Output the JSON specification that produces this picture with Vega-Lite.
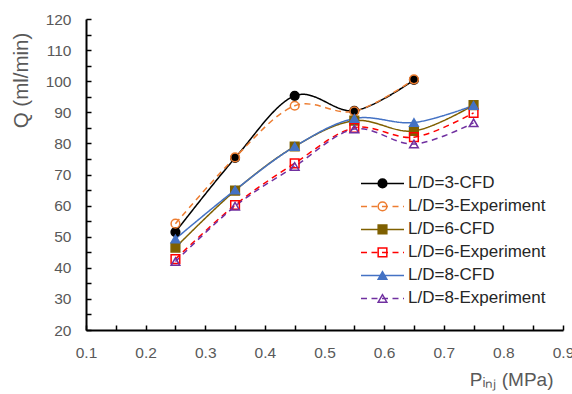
{
  "$schema": "https://vega.github.io/schema/vega-lite/v6.json",
  "width": 477,
  "height": 311,
  "autosize": {"type": "none"},
  "padding": {"left": 86, "top": 19, "right": 9, "bottom": 64},
  "background": "white",
  "config": {"view": {"stroke": null}, "font": "Liberation Sans"},
  "data": {
    "values": [
      {"series": "L/D=3-CFD", "p": 0.25, "q": 51.5},
      {"series": "L/D=3-CFD", "p": 0.35, "q": 75.3},
      {"series": "L/D=3-CFD", "p": 0.45, "q": 95.3},
      {"series": "L/D=3-CFD", "p": 0.55, "q": 90.5},
      {"series": "L/D=3-CFD", "p": 0.65, "q": 100.4},
      {"series": "L/D=3-Experiment", "p": 0.25, "q": 54.2},
      {"series": "L/D=3-Experiment", "p": 0.35, "q": 75.5},
      {"series": "L/D=3-Experiment", "p": 0.45, "q": 92.1},
      {"series": "L/D=3-Experiment", "p": 0.55, "q": 90.3},
      {"series": "L/D=3-Experiment", "p": 0.65, "q": 100.6},
      {"series": "L/D=6-CFD", "p": 0.25, "q": 46.5},
      {"series": "L/D=6-CFD", "p": 0.35, "q": 64.8},
      {"series": "L/D=6-CFD", "p": 0.45, "q": 79.0},
      {"series": "L/D=6-CFD", "p": 0.55, "q": 87.3},
      {"series": "L/D=6-CFD", "p": 0.65, "q": 84.0},
      {"series": "L/D=6-CFD", "p": 0.75, "q": 92.3},
      {"series": "L/D=6-Experiment", "p": 0.25, "q": 42.8},
      {"series": "L/D=6-Experiment", "p": 0.35, "q": 60.2},
      {"series": "L/D=6-Experiment", "p": 0.45, "q": 73.6},
      {"series": "L/D=6-Experiment", "p": 0.55, "q": 85.0},
      {"series": "L/D=6-Experiment", "p": 0.65, "q": 82.0},
      {"series": "L/D=6-Experiment", "p": 0.75, "q": 89.8},
      {"series": "L/D=8-CFD", "p": 0.25, "q": 49.3},
      {"series": "L/D=8-CFD", "p": 0.35, "q": 65.0},
      {"series": "L/D=8-CFD", "p": 0.45, "q": 79.0},
      {"series": "L/D=8-CFD", "p": 0.55, "q": 88.0},
      {"series": "L/D=8-CFD", "p": 0.65, "q": 86.7},
      {"series": "L/D=8-CFD", "p": 0.75, "q": 92.2},
      {"series": "L/D=8-Experiment", "p": 0.25, "q": 42.0},
      {"series": "L/D=8-Experiment", "p": 0.35, "q": 59.8},
      {"series": "L/D=8-Experiment", "p": 0.45, "q": 72.6},
      {"series": "L/D=8-Experiment", "p": 0.55, "q": 84.6},
      {"series": "L/D=8-Experiment", "p": 0.65, "q": 79.8},
      {"series": "L/D=8-Experiment", "p": 0.75, "q": 86.6}
    ]
  },
  "encoding": {
    "x": {
      "field": "p", "type": "quantitative",
      "scale": {"domain": [0.1, 0.9], "nice": false, "zero": false},
      "axis": {
        "values": [0.1, 0.15, 0.2, 0.25, 0.3, 0.35, 0.4, 0.45, 0.5, 0.55, 0.6, 0.65, 0.7, 0.75, 0.8, 0.85, 0.9],
        "labelExpr": "abs(datum.value*10 - round(datum.value*10)) < 0.001 ? format(datum.value, '.1f') : ''",
        "grid": false,
        "domainColor": "#000000", "domainWidth": 2,
        "tickColor": "#000000", "tickWidth": 1.5, "tickSize": -5,
        "labelFontSize": 15.5, "labelColor": "#595959", "labelPadding": 20, "labelFlush": false,
        "title": "Pᵢₙⱼ (MPa)",
        "titleFontSize": 19, "titleFontWeight": "normal", "titleColor": "#595959",
        "titleAnchor": "end", "titleAlign": "right", "titleBaseline": "alphabetic",
        "titleX": 467, "titleY": 55
      }
    },
    "y": {
      "field": "q", "type": "quantitative",
      "scale": {"domain": [20, 120], "nice": false, "zero": false},
      "axis": {
        "values": [20, 25, 30, 35, 40, 45, 50, 55, 60, 65, 70, 75, 80, 85, 90, 95, 100, 105, 110, 115, 120],
        "labelExpr": "datum.value % 10 === 0 ? datum.value : ''",
        "grid": false,
        "domainColor": "#000000", "domainWidth": 2,
        "tickColor": "#000000", "tickWidth": 1.5, "tickSize": -5,
        "labelFontSize": 15.5, "labelColor": "#595959", "labelPadding": 20, "labelFlush": false,
        "title": "Q (ml/min)",
        "titleFontSize": 20.5, "titleFontWeight": "normal", "titleColor": "#595959",
        "titleAnchor": "start", "titleAlign": "center", "titleBaseline": "alphabetic", "titleAngle": -90,
        "titleX": -59, "titleY": 61
      }
    }
  },
  "layer": [
    {
      "mark": {"type": "line", "interpolate": "cardinal", "strokeWidth": 1.5},
      "encoding": {
        "color": {
          "field": "series", "type": "nominal",
          "scale": {
            "domain": ["L/D=3-CFD", "L/D=3-Experiment", "L/D=6-CFD", "L/D=6-Experiment", "L/D=8-CFD", "L/D=8-Experiment"],
            "range": ["#000000", "#ED7D31", "#7F6000", "#FF0000", "#4472C4", "#7030A0"]
          },
          "legend": {
            "title": null, "orient": "none", "legendX": 274, "legendY": 153,
            "symbolType": "stroke", "symbolSize": 1849, "symbolStrokeWidth": 1.5,
            "clipHeight": 22.8, "rowPadding": 0,
            "labelFontSize": 17, "labelColor": "#262626", "labelOffset": 3, "labelLimit": 300
          }
        },
        "strokeDash": {
          "field": "series", "type": "nominal",
          "scale": {
            "domain": ["L/D=3-CFD", "L/D=3-Experiment", "L/D=6-CFD", "L/D=6-Experiment", "L/D=8-CFD", "L/D=8-Experiment"],
            "range": [[1, 0], [6, 4.5], [1, 0], [6, 4.5], [1, 0], [6, 4.5]]
          }
        }
      }
    },
    {
      "mark": {"type": "point", "filled": false, "strokeWidth": 1.5, "opacity": 1, "size": 75},
      "encoding": {
        "shape": {
          "field": "series", "type": "nominal",
          "scale": {"range": ["circle", "circle", "square", "square", "triangle-up", "triangle-up"]},
          "legend": {
            "title": null, "orient": "none", "legendX": 289, "legendY": 153,
            "symbolSize": 75, "symbolStrokeWidth": 1.5,
            "clipHeight": 22.8, "rowPadding": 0,
            "labelFontSize": 15, "labelExpr": "''", "labelOffset": 0
          }
        },
        "stroke": {
          "field": "series", "type": "nominal",
          "scale": {"range": ["#000000", "#ED7D31", "#7F6000", "#FF0000", "#4472C4", "#7030A0"]}
        },
        "fill": {
          "field": "series", "type": "nominal",
          "scale": {"range": ["#000000", "transparent", "#7F6000", "transparent", "#4472C4", "transparent"]}
        }
      }
    }
  ]
}
